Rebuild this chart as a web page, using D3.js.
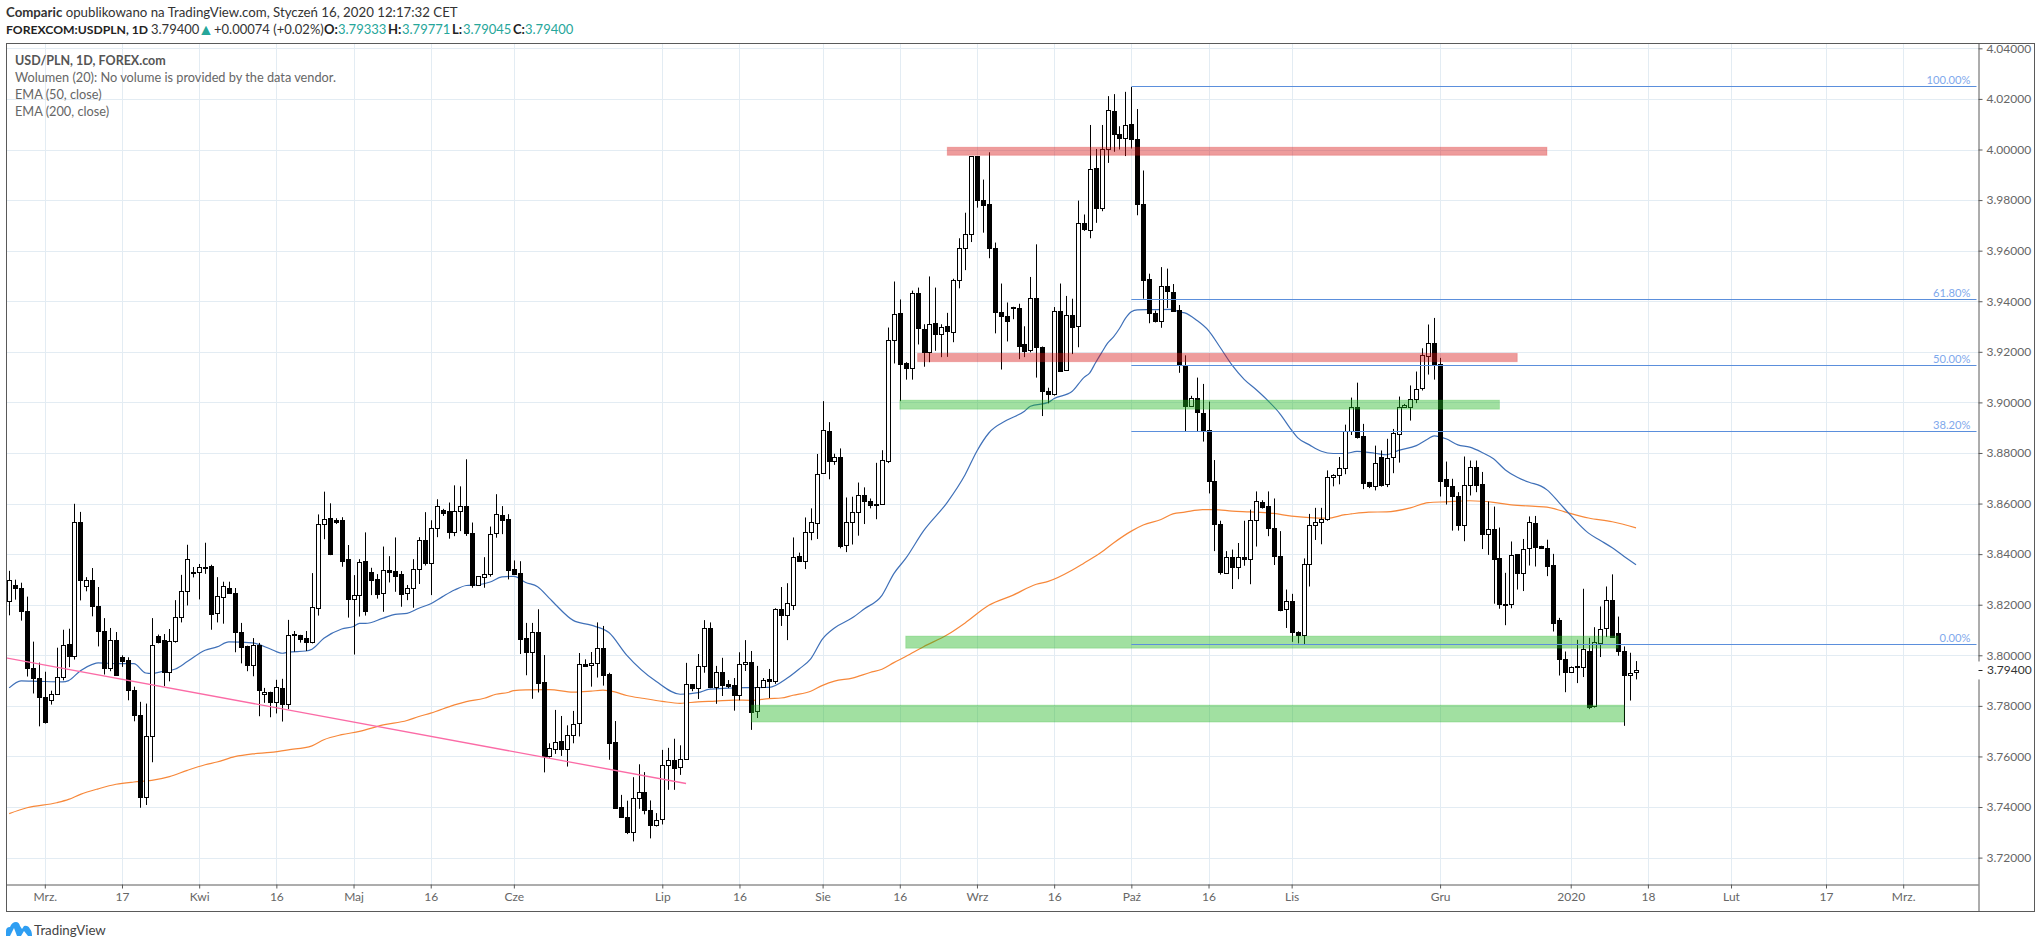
<!DOCTYPE html>
<html>
<head>
<meta charset="utf-8">
<title>USD/PLN</title>
<style>
    html, body { margin: 0; padding: 0; background: #fff; }
    svg { display: block; }
    text { font-family: "Lato", sans-serif; }
</style>
</head>
<body>
<svg id="chart" width="2041" height="948"></svg>

<script src="https://d3js.org/d3.v7.min.js"></script>
<script type="text/javascript">

const opens = [
    3.8214,3.8279,3.8267,3.8176,3.7951,3.7912,3.7835,3.7822,3.7847,3.7914,
    3.8045,3.7997,3.8526,3.8272,3.8297,3.8195,3.8096,3.7949,3.8060,3.7995,
    3.7981,3.7863,3.7764,3.7441,3.7681,3.8076,3.8060,3.7934,3.8055,3.8150,
    3.8254,3.8330,3.8329,3.8349,3.8354,3.8166,3.8230,3.8266,3.8247,3.8093,
    3.8037,3.7962,3.8042,3.7847,3.7856,3.7814,3.7870,3.7809,3.8084,3.8080,
    3.8067,3.8054,3.8186,3.8521,3.8542,3.8534,3.8534,3.8379,3.8221,3.8237,
    3.8371,3.8328,3.8300,3.8245,3.8336,3.8332,3.8320,3.8247,3.8268,3.8340,
    3.8454,3.8366,3.8505,3.8574,3.8569,3.8486,3.8569,3.8592,3.8485,3.8276,
    3.8310,3.8322,3.8482,3.8553,3.8538,3.8340,3.8324,3.8067,3.8014,3.8091,
    3.7893,3.7600,3.7629,3.7660,3.7629,3.7683,3.7731,3.7964,3.7960,3.7968,
    3.8027,3.7926,3.7656,3.7400,3.7360,3.7301,3.7435,3.7459,3.7388,3.7327,
    3.7352,3.7566,3.7585,3.7558,3.7589,3.7885,3.7872,3.7956,3.8106,3.7876,
    3.7933,3.7885,3.7881,3.7844,3.7964,3.7972,3.7779,3.7876,3.7905,3.7900,
    3.8185,3.8160,3.8200,3.8391,3.8374,3.8489,3.8524,3.8720,3.8888,3.8770,
    3.8785,3.8436,3.8527,3.8566,3.8633,3.8611,3.8599,3.8597,3.8768,3.9246,
    3.9354,3.9154,3.9137,3.9432,3.9290,3.9199,3.9313,3.9271,3.9302,3.9279,
    3.9484,3.9610,3.9665,3.9973,3.9800,3.9784,3.9610,3.9359,3.9343,3.9377,
    3.9373,3.9229,3.9207,3.9413,3.9220,3.9046,3.9032,3.9362,3.9127,3.9346,
    3.9302,3.9710,3.9681,3.9927,3.9768,4.0002,4.0152,4.0061,4.0044,4.0101,
    4.0041,3.9784,3.9488,3.9355,3.9320,3.9462,3.9437,3.9366,3.9145,3.8985,
    3.9018,3.8959,3.8890,3.8690,3.8520,3.8326,3.8389,3.8349,3.8389,3.8382,
    3.8535,3.8607,3.8590,3.8504,3.8393,3.8183,3.8214,3.8094,3.8080,3.8361,
    3.8516,3.8528,3.8538,3.8705,3.8713,3.8741,3.8887,3.8983,3.8868,3.8686,
    3.8670,3.8785,3.8677,3.8783,3.8874,3.8982,3.8981,3.9014,3.9056,3.9183,
    3.9235,3.9152,3.8699,3.8670,3.8630,3.8515,3.8674,3.8745,3.8678,3.8481,
    3.8500,3.8383,3.8204,3.8202,3.8399,3.8326,3.8424,3.8524,3.8433,3.8425,
    3.8358,3.8140,3.7986,3.7935,3.7955,3.7955,3.8018,3.7798,3.8049,3.8109,
    3.8219,3.8089,3.8018,3.7923,3.79333
];
const closes = [
    3.8297,3.8268,3.8174,3.7949,3.7909,3.7834,3.7735,3.7847,3.7914,3.8041,
    3.7996,3.8526,3.8296,3.8297,3.8193,3.8095,3.7949,3.8060,3.7921,3.7979,
    3.7862,3.7763,3.7439,3.7680,3.8041,3.8054,3.7934,3.8055,3.8151,3.8254,
    3.8380,3.8324,3.8349,3.8348,3.8164,3.8234,3.8274,3.8245,3.8093,3.8032,
    3.7960,3.8041,3.7862,3.7855,3.7814,3.7875,3.7809,3.8079,3.8079,3.8066,
    3.8054,3.8190,3.8521,3.8537,3.8400,3.8529,3.8374,3.8224,3.8237,3.8367,
    3.8176,3.8299,3.8243,3.8336,3.8330,3.8314,3.8243,3.8268,3.8340,3.8454,
    3.8366,3.8505,3.8592,3.8563,3.8487,3.8569,3.8592,3.8484,3.8278,3.8312,
    3.8322,3.8478,3.8557,3.8536,3.8338,3.8321,3.8066,3.8014,3.8091,3.7892,
    3.7600,3.7633,3.7656,3.7629,3.7683,3.7727,3.7964,3.7959,3.7968,3.8027,
    3.7923,3.7655,3.7396,3.7359,3.7300,3.7435,3.7459,3.7390,3.7327,3.7348,
    3.7566,3.7585,3.7556,3.7589,3.7885,3.7872,3.7956,3.8106,3.7876,3.7933,
    3.7884,3.7880,3.7843,3.7964,3.7972,3.7777,3.7876,3.7901,3.7900,3.8185,
    3.8160,3.8205,3.8387,3.8374,3.8489,3.8529,3.8717,3.8891,3.8770,3.8785,
    3.8433,3.8527,3.8566,3.8633,3.8610,3.8594,3.8594,3.8772,3.9246,3.9350,
    3.9151,3.9135,3.9432,3.9293,3.9199,3.9309,3.9270,3.9298,3.9284,3.9484,
    3.9610,3.9665,3.9973,3.9800,3.9779,3.9610,3.9357,3.9340,3.9323,3.9373,
    3.9224,3.9202,3.9413,3.9218,3.9044,3.9032,3.9362,3.9126,3.9346,3.9299,
    3.9710,3.9684,3.9923,3.9768,4.0002,4.0155,4.0060,4.0044,4.0097,4.0040,
    3.9784,3.9485,3.9352,3.9320,3.9461,3.9440,3.9363,3.9146,3.8985,3.9018,
    3.8962,3.8886,3.8689,3.8518,3.8328,3.8387,3.8349,3.8389,3.8380,3.8535,
    3.8611,3.8586,3.8503,3.8392,3.8181,3.8215,3.8091,3.8080,3.8361,3.8516,
    3.8529,3.8540,3.8705,3.8713,3.8741,3.8887,3.8983,3.8865,3.8683,3.8669,
    3.8761,3.8675,3.8780,3.8880,3.8981,3.8990,3.9014,3.9053,3.9188,3.9235,
    3.9151,3.8691,3.8669,3.8628,3.8517,3.8674,3.8744,3.8675,3.8479,3.8500,
    3.8380,3.8201,3.8201,3.8397,3.8325,3.8421,3.8528,3.8430,3.8424,3.8355,
    3.8127,3.7985,3.7933,3.7955,3.7956,3.8024,3.7795,3.8053,3.8103,3.8219,
    3.8074,3.8018,3.7922,3.7930,3.7940
];
const highs = [
    3.8334,3.8299,3.8287,3.8232,3.8054,3.7971,3.7935,3.7860,3.8030,3.8101,
    3.8105,3.8599,3.8567,3.8309,3.8345,3.8270,3.8147,3.8108,3.8092,3.8000,
    3.7992,3.7876,3.7816,3.7809,3.8147,3.8082,3.8084,3.8104,3.8218,3.8318,
    3.8437,3.8349,3.8361,3.8445,3.8358,3.8309,3.8291,3.8291,3.8266,3.8128,
    3.8038,3.8068,3.8049,3.7871,3.7856,3.7903,3.7907,3.8140,3.8096,3.8081,
    3.8096,3.8325,3.8557,3.8647,3.8601,3.8542,3.8546,3.8436,3.8317,3.8380,
    3.8486,3.8346,3.8321,3.8430,3.8392,3.8466,3.8333,3.8278,3.8380,3.8467,
    3.8566,3.8534,3.8617,3.8579,3.8604,3.8672,3.8668,3.8775,3.8525,3.8313,
    3.8388,3.8509,3.8637,3.8590,3.8558,3.8375,3.8372,3.8128,3.8128,3.8182,
    3.8001,3.7652,3.7784,3.7760,3.7723,3.7780,3.8009,3.7984,3.8013,3.8130,
    3.8116,3.7931,3.7740,3.7448,3.7425,3.7518,3.7569,3.7538,3.7426,3.7376,
    3.7626,3.7634,3.7670,3.7644,3.7970,3.7886,3.8005,3.8139,3.8130,3.7958,
    3.7990,3.7902,3.7910,3.8012,3.8060,3.8017,3.7958,3.7910,3.7946,3.8186,
    3.8270,3.8285,3.8466,3.8406,3.8545,3.8581,3.8796,3.9005,3.8922,3.8797,
    3.8818,3.8624,3.8627,3.8683,3.8664,3.8620,3.8761,3.8811,3.9296,3.9478,
    3.9407,3.9159,3.9442,3.9454,3.9309,3.9498,3.9454,3.9309,3.9354,3.9489,
    3.9649,3.9750,3.9973,3.9974,3.9881,3.9989,3.9632,3.9470,3.9395,3.9378,
    3.9390,3.9301,3.9496,3.9625,3.9221,3.9058,3.9377,3.9470,3.9421,3.9410,
    3.9798,3.9743,4.0097,4.0002,4.0097,4.0211,4.0219,4.0092,4.0228,4.0247,
    4.0160,3.9917,3.9509,3.9363,3.9535,3.9529,3.9468,3.9385,3.9186,3.9026,
    3.9098,3.9073,3.9003,3.8772,3.8532,3.8412,3.8418,3.8444,3.8532,3.8576,
    3.8648,3.8613,3.8648,3.8620,3.8491,3.8260,3.8243,3.8095,3.8383,3.8559,
    3.8583,3.8583,3.8731,3.8716,3.8784,3.8912,3.9019,3.9078,3.8915,3.8686,
    3.8829,3.8810,3.8856,3.8895,3.9023,3.8994,3.9067,3.9122,3.9214,3.9308,
    3.9334,3.9176,3.8766,3.8698,3.8645,3.8786,3.8770,3.8770,3.8725,3.8608,
    3.8588,3.8505,3.8326,3.8450,3.8399,3.8460,3.8549,3.8551,3.8433,3.8457,
    3.8401,3.8148,3.8015,3.7956,3.8061,3.8263,3.8069,3.8111,3.8193,3.8272,
    3.8320,3.8153,3.8035,3.8010,3.79771
];
const lows = [
    3.8158,3.8220,3.8137,3.7916,3.7849,3.7719,3.7730,3.7805,3.7847,3.7901,
    3.7953,3.7983,3.8217,3.8253,3.8154,3.8035,3.7924,3.7937,3.7920,3.7954,
    3.7822,3.7739,3.7397,3.7408,3.7577,3.8047,3.7878,3.7897,3.8050,3.8130,
    3.8197,3.8308,3.8221,3.8322,3.8101,3.8130,3.8125,3.8244,3.8012,3.7968,
    3.7937,3.7917,3.7759,3.7812,3.7755,3.7770,3.7738,3.7787,3.8014,3.8050,
    3.8017,3.8047,3.8157,3.8459,3.8396,3.8519,3.8350,3.8149,3.8003,3.8153,
    3.8157,3.8238,3.8224,3.8172,3.8288,3.8251,3.8192,3.8218,3.8188,3.8282,
    3.8355,3.8238,3.8467,3.8551,3.8461,3.8471,3.8491,3.8472,3.8267,3.8275,
    3.8267,3.8311,3.8465,3.8479,3.8300,3.8320,3.8005,3.7921,3.7828,3.7853,
    3.7537,3.7595,3.7610,3.7602,3.7560,3.7652,3.7679,3.7955,3.7876,3.7912,
    3.7880,3.7587,3.7393,3.7358,3.7293,3.7264,3.7393,3.7371,3.7276,3.7323,
    3.7331,3.7468,3.7468,3.7527,3.7589,3.7858,3.7827,3.7931,3.7870,3.7808,
    3.7839,3.7870,3.7781,3.7822,3.7938,3.7705,3.7752,3.7875,3.7831,3.7887,
    3.8116,3.8060,3.8179,3.8370,3.8341,3.8455,3.8460,3.8720,3.8696,3.8753,
    3.8423,3.8408,3.8438,3.8473,3.8519,3.8581,3.8538,3.8596,3.8760,3.9154,
    3.9005,3.9090,3.9090,3.9229,3.9141,3.9159,3.9204,3.9179,3.9180,3.9238,
    3.9451,3.9523,3.9634,3.9770,3.9671,3.9570,3.9273,3.9130,3.9241,3.9329,
    3.9171,3.9179,3.9198,3.9098,3.8946,3.8996,3.9027,3.9121,3.9126,3.9191,
    3.9218,3.9678,3.9649,3.9710,3.9756,3.9947,3.9991,4.0000,3.9974,4.0004,
    3.9740,3.9410,3.9313,3.9316,3.9295,3.9373,3.9362,3.9117,3.8883,3.8984,
    3.8883,3.8845,3.8640,3.8412,3.8319,3.8323,3.8262,3.8301,3.8354,3.8281,
    3.8430,3.8580,3.8471,3.8357,3.8174,3.8108,3.8053,3.8047,3.8044,3.8272,
    3.8456,3.8439,3.8532,3.8668,3.8676,3.8716,3.8871,3.8857,3.8657,3.8661,
    3.8652,3.8667,3.8665,3.8720,3.8762,3.8978,3.8928,3.8997,3.9047,3.9110,
    3.9090,3.8628,3.8596,3.8493,3.8493,3.8451,3.8632,3.8645,3.8420,3.8397,
    3.8204,3.8184,3.8119,3.8186,3.8260,3.8254,3.8355,3.8351,3.8424,3.8313,
    3.8094,3.7920,3.7854,3.7934,3.7890,3.7914,3.7787,3.7793,3.7993,3.8072,
    3.8071,3.7998,3.7721,3.7821,3.79045
];

const ema50Bars = [0,2,5,9,10,12,14,15,18,21,23,24,26,28,30,33,35,37,41,44,46,47,50,51,53,56,58,59,60,63,65,67,69,71,73,75,77,79,81,83,85,87,89,91,92,95,98,101,104,109,113,116,118,121,124,128,131,133,135,137,139,142,144,147,149,151,154,158,161,163,165,168,171,172,175,176,179,181,182,183,184,185,186,187,188,189,190,192,196,197,198,200,202,204,206,208,210,212,214,216,217,219,221,223,225,227,230,232,234,237,239,240,242,244,246,248,250,252,254,256,258,259,261,263,266,268,270,272,274];
const ema50Values = [3.7871,3.7899,3.7897,3.7895,3.7900,3.7939,3.7964,3.7970,3.7967,3.7967,3.7930,3.7928,3.7937,3.7946,3.7975,3.8020,3.8033,3.8053,3.8049,3.8025,3.8008,3.8012,3.8017,3.8024,3.8067,3.8104,3.8114,3.8126,3.8126,3.8147,3.8162,3.8166,3.8186,3.8204,3.8232,3.8258,3.8276,3.8279,3.8290,3.8310,3.8312,3.8288,3.8271,3.8225,3.8201,3.8138,3.8119,3.8090,3.8001,3.7896,3.7846,3.7852,3.7866,3.7870,3.7872,3.7873,3.7909,3.7945,3.7986,3.8065,3.8108,3.8148,3.8183,3.8237,3.8323,3.8383,3.8492,3.8605,3.8714,3.8808,3.8879,3.8929,3.8965,3.8985,3.9000,3.9015,3.9043,3.9098,3.9117,3.9158,3.9197,3.9234,3.9259,3.9292,3.9332,3.9358,3.9366,3.9367,3.9368,3.9358,3.9354,3.9325,3.9284,3.9216,3.9146,3.9091,3.9051,3.9007,3.8956,3.8890,3.8861,3.8832,3.8807,3.8798,3.8798,3.8806,3.8799,3.8793,3.8810,3.8829,3.8856,3.8868,3.8856,3.8832,3.8823,3.8803,3.8777,3.8733,3.8704,3.8684,3.8669,3.8654,3.8605,3.8553,3.8483,3.8454,3.8425,3.8391,3.8358];

const ema200Bars = [0,3,8,10,12,15,18,21,24,27,30,33,35,38,41,44,47,51,53,56,59,63,67,69,71,75,77,80,82,84,85,87,91,95,98,100,102,104,107,110,113,116,119,122,125,128,130,132,135,137,139,142,145,147,149,151,154,158,161,165,169,173,175,179,181,184,186,189,191,194,196,198,201,203,206,209,213,216,219,222,225,226,229,232,236,239,242,246,250,253,257,259,262,266,270,274];
const ema200Values = [3.7374,3.7397,3.7417,3.7430,3.7450,3.7472,3.7490,3.7499,3.7505,3.7520,3.7545,3.7567,3.7578,3.7599,3.7610,3.7616,3.7626,3.7642,3.7666,3.7686,3.7699,3.7725,3.7742,3.7758,3.7771,3.7804,3.7817,3.7830,3.7846,3.7853,3.7860,3.7863,3.7864,3.7854,3.7858,3.7862,3.7855,3.7841,3.7829,3.7818,3.7810,3.7816,3.7819,3.7823,3.7822,3.7829,3.7831,3.7842,3.7858,3.7881,3.7898,3.7910,3.7932,3.7945,3.7971,3.7995,3.8034,3.8081,3.8128,3.8198,3.8237,3.8281,3.8292,3.8336,3.8364,3.8408,3.8444,3.8491,3.8515,3.8537,3.8559,3.8566,3.8576,3.8576,3.8570,3.8567,3.8561,3.8550,3.8544,3.8542,3.8556,3.8559,3.8566,3.8567,3.8583,3.8604,3.8607,3.8611,3.8605,3.8595,3.8589,3.8586,3.8567,3.8543,3.8528,3.8504];

const trendBars = [-1, 114];
const trendValues = [3.7992, 3.7493];

const zoneStart = [158, 153, 150, 151, 125];
const zoneEnd = [259, 254, 251, 271, 272];
const zoneTop = [4.0009, 3.9194, 3.9009, 3.8076, 3.7803];
const zoneBottom = [3.9977, 3.9161, 3.8973, 3.8028, 3.7736];
const zoneKind = ['red', 'red', 'green', 'green', 'green'];

const fibLevels = [4.025, 3.9408, 3.9147, 3.8887, 3.8045];
const fibLabels = ['100.00%', '61.80%', '50.00%', '38.20%', '0.00%'];
const fibStartBar = 189;

const priceTicks = [4.04, 4.02, 4.00, 3.98, 3.96, 3.94, 3.92, 3.90, 3.88, 3.86, 3.84, 3.82, 3.80, 3.78, 3.76, 3.74, 3.72];
const lastPrice = 3.794;

const timeTickBars = [6, 19, 32, 45, 58, 71, 85, 110, 123, 137, 150, 163, 176, 189, 202, 216, 241, 263, 276, 290, 306, 319];
const timeTickLabels = ['Mrz.', '17', 'Kwi', '16', 'Maj', '16', 'Cze', 'Lip', '16', 'Sie', '16', 'Wrz', '16', 'Paź', '16', 'Lis', 'Gru', '2020', '18', 'Lut', '17', 'Mrz.'];

const frame = { left: 6.5, top: 43.5, right: 2034.5, bottom: 911.5, axisX: 1978.5, axisY: 884.5 };
const teal = '#26a69a';

const svg = d3.select('#chart');

const x = d3.scaleLinear().domain([6, 319]).range([44.8, 1903.2]);
const y = d3.scaleLinear().domain([3.72, 4.00]).range([857.6, 149.5]);
const px = v => Math.round(x(v)) + 0.5;
const py = v => Math.round(y(v)) + 0.5;

svg.append('clipPath').attr('id', 'plot')
    .append('rect')
    .attr('x', frame.left).attr('y', frame.top)
    .attr('width', frame.axisX - frame.left).attr('height', frame.axisY - frame.top);

// grid
const grid = svg.append('g').attr('class', 'grid').attr('stroke', '#e3ecf3').attr('stroke-width', 1);
grid.selectAll('.gx').data(timeTickBars).join('line')
    .attr('x1', px).attr('x2', px).attr('y1', frame.top).attr('y2', frame.axisY);
grid.selectAll('.gy').data(priceTicks).join('line')
    .attr('x1', frame.left).attr('x2', frame.axisX).attr('y1', py).attr('y2', py);

const plot = svg.append('g').attr('clip-path', 'url(#plot)');

// indicators sit under the candles
const emaLine = (bars, values) => d3.line()
    .x((d, i) => x(d))
    .y((d, i) => y(values[i]))
    .curve(d3.curveMonotoneX)(bars);

plot.append('path').attr('d', emaLine(ema200Bars, ema200Values))
    .attr('fill', 'none').attr('stroke', '#f7883a').attr('stroke-width', 1.2);
plot.append('path').attr('d', emaLine(ema50Bars, ema50Values))
    .attr('fill', 'none').attr('stroke', '#3f70b8').attr('stroke-width', 1.2);

// candles
const candles = plot.append('g').attr('class', 'candles')
    .selectAll('g').data(opens).join('g');

candles.append('line')
    .attr('x1', (d, i) => px(i)).attr('x2', (d, i) => px(i))
    .attr('y1', (d, i) => y(highs[i])).attr('y2', (d, i) => y(lows[i]))
    .attr('stroke', '#000').attr('stroke-width', 1);

candles.append('rect')
    .attr('x', (d, i) => px(i) - 2)
    .attr('width', 4)
    .attr('y', (d, i) => py(Math.max(opens[i], closes[i])))
    .attr('height', (d, i) => Math.max(1, py(Math.min(opens[i], closes[i])) - py(Math.max(opens[i], closes[i]))))
    .attr('fill', (d, i) => closes[i] >= opens[i] ? '#fff' : '#000')
    .attr('stroke', '#000').attr('stroke-width', 1);

// drawings on top of the candles
const zoneFill = { red: 'rgba(215,20,20,0.42)', green: 'rgba(30,180,30,0.42)' };
const zoneEdge = { red: 'rgba(215,20,20,0.2)', green: 'rgba(30,180,30,0.2)' };
plot.append('g').attr('class', 'zones')
    .selectAll('rect').data(zoneStart).join('rect')
    .attr('x', (d, i) => x(d))
    .attr('width', (d, i) => x(zoneEnd[i]) - x(d))
    .attr('y', (d, i) => y(zoneTop[i]))
    .attr('height', (d, i) => y(zoneBottom[i]) - y(zoneTop[i]))
    .attr('fill', (d, i) => zoneFill[zoneKind[i]])
    .attr('stroke', (d, i) => zoneEdge[zoneKind[i]])
    .attr('stroke-width', 1);

plot.append('line')
    .attr('x1', x(trendBars[0])).attr('y1', y(trendValues[0]))
    .attr('x2', x(trendBars[1])).attr('y2', y(trendValues[1]))
    .attr('stroke', '#fb6ba6').attr('stroke-width', 1.3);

const fib = svg.append('g').attr('class', 'fib');
fib.selectAll('line').data(fibLevels).join('line')
    .attr('x1', x(fibStartBar)).attr('x2', frame.axisX - 2)
    .attr('y1', py).attr('y2', py)
    .attr('stroke', '#5b8fdc').attr('stroke-width', 1);
fib.selectAll('text').data(fibLabels).join('text')
    .attr('x', 1970.5)
    .attr('y', (d, i) => py(fibLevels[i]) - 3)
    .attr('text-anchor', 'end')
    .attr('font-size', 11.2)
    .attr('fill', '#7fa9ec')
    .text(d => d);

// frame
svg.append('rect')
    .attr('x', frame.left).attr('y', frame.top)
    .attr('width', frame.right - frame.left).attr('height', frame.bottom - frame.top)
    .attr('fill', 'none').attr('stroke', '#5a5a5a').attr('stroke-width', 1);

// axes
const yAxis = svg.append('g')
    .attr('transform', `translate(${frame.axisX},0)`)
    .call(d3.axisRight(y).tickValues(priceTicks).tickSize(4).tickPadding(4).tickFormat(d3.format('.5f')));
yAxis.select('.domain').attr('stroke', '#5a5a5a').attr('d', `M0.5,${frame.top}V${frame.bottom}`);
yAxis.selectAll('.tick line').attr('stroke', '#5a5a5a');
yAxis.selectAll('.tick text').attr('fill', '#666').attr('font-size', 12).attr('font-family', '"Lato", sans-serif');

const xAxis = svg.append('g')
    .attr('transform', `translate(0,${frame.axisY})`)
    .call(d3.axisBottom(x).tickValues(timeTickBars).tickSize(4).tickPadding(4)
        .tickFormat((d, i) => timeTickLabels[i]));
xAxis.select('.domain').attr('stroke', '#5a5a5a').attr('d', `M${frame.left},0.5H${frame.axisX}`);
xAxis.selectAll('.tick line').attr('stroke', '#5a5a5a');
xAxis.selectAll('.tick text').attr('fill', '#666').attr('font-size', 12).attr('font-family', '"Lato", sans-serif');

// last price tag over the axis
const tag = svg.append('g');
tag.append('rect').attr('x', frame.axisX - 0.5).attr('y', y(lastPrice) - 9)
    .attr('width', frame.right - frame.axisX).attr('height', 18).attr('fill', '#fff');
tag.append('line').attr('x1', frame.axisX).attr('x2', frame.axisX + 4)
    .attr('y1', py(lastPrice)).attr('y2', py(lastPrice)).attr('stroke', '#222');
tag.append('text').attr('x', frame.axisX + 8.5).attr('y', y(lastPrice)).attr('dy', '0.32em')
    .attr('font-size', 12).attr('fill', '#333').text(d3.format('.5f')(lastPrice));

// legend
const legendLines = ['USD/PLN, 1D, FOREX.com', 'Wolumen (20): No volume is provided by the data vendor.', 'EMA (50, close)', 'EMA (200, close)'];
svg.append('g').selectAll('text').data(legendLines).join('text')
    .attr('x', 15)
    .attr('y', (d, i) => 65 + i * 17)
    .attr('font-size', (d, i) => i === 0 ? 12.5 : 12.75)
    .attr('font-weight', (d, i) => i === 0 ? 700 : 400)
    .attr('fill', (d, i) => i === 0 ? '#555' : '#666')
    .text(d => d);

// header lines
const headerTop = svg.append('text').attr('x', 6).attr('y', 17).attr('font-size', 13.25).attr('fill', '#333');
headerTop.append('tspan').attr('font-weight', 700).text('Comparic');
headerTop.append('tspan').text(' opublikowano na TradingView.com, Styczeń 16, 2020 12:17:32 CET');

const headerItems = [
    { x: 6, t: 'FOREXCOM:USDPLN, 1D', bold: true, c: '#222', s: 12.2, dy: 0 },
    { x: 151, t: '3.79400', c: '#333', s: 13, dy: 0 },
    { x: 198, t: '▲', c: teal, s: 16, dy: 1 },
    { x: 214, t: '+0.00074 (+0.02%)', c: '#333', s: 13, dy: 0 },
    { x: 324, t: 'O:', bold: true, c: '#222', s: 13, dy: 0 },
    { x: 338, t: '3.79333', c: teal, s: 13, dy: 0 },
    { x: 388, t: 'H:', bold: true, c: '#222', s: 13, dy: 0 },
    { x: 402, t: '3.79771', c: teal, s: 13, dy: 0 },
    { x: 452, t: 'L:', bold: true, c: '#222', s: 13, dy: 0 },
    { x: 463, t: '3.79045', c: teal, s: 13, dy: 0 },
    { x: 513, t: 'C:', bold: true, c: '#222', s: 13, dy: 0 },
    { x: 525, t: '3.79400', c: teal, s: 13, dy: 0 }
];
svg.append('g').selectAll('text').data(headerItems).join('text')
    .attr('x', d => d.x).attr('y', d => 34 + d.dy)
    .attr('font-size', d => d.s)
    .attr('font-weight', d => d.bold ? 700 : 400)
    .attr('fill', d => d.c)
    .text(d => d.t);

// footer logo and name
svg.append('path')
    .attr('d', 'M6 936 L6 931 Q6 927 10 927 Q12 922 16 922 Q19 922 20 926 L22 929 L24 926 Q28 925 30 929 Q32 931 32 936 L28 936 L24 931 L21 936 L17 936 L14 928 L10 936 Z')
    .attr('fill', '#2e9ef2');
svg.append('text').attr('x', 34).attr('y', 935).attr('font-size', 13.3).attr('fill', '#444').text('TradingView');

</script>
</body>
</html>
